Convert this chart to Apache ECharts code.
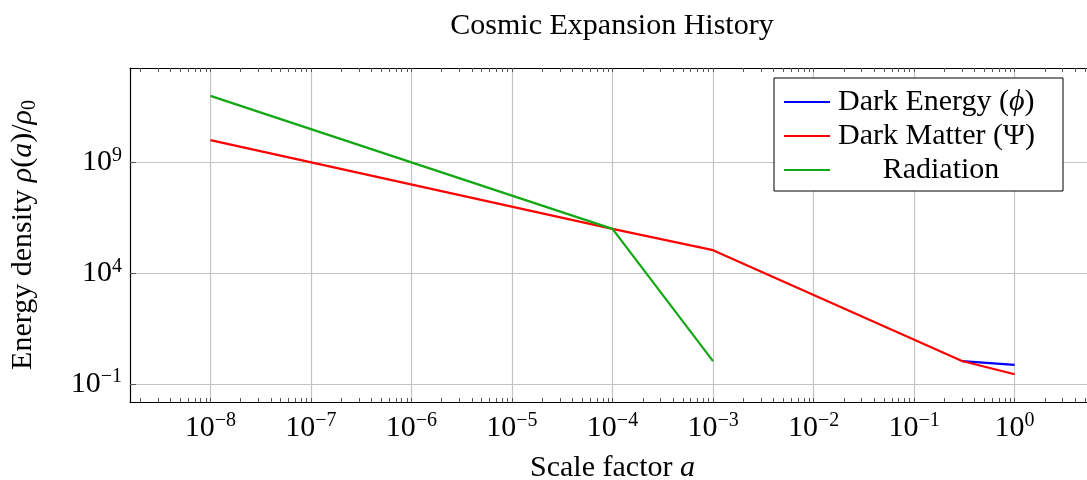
<!DOCTYPE html>
<html>
<head>
<meta charset="utf-8">
<script src="https://cdn.jsdelivr.net/npm/echarts@6.0.0/dist/echarts.min.js"></script>
<style>
html,body{margin:0;padding:0;background:#fff;}
#chart{width:1087px;height:480px;}
</style>
</head>
<body>
<div id="chart"></div>
<script>
// ---- data ----
const seriesNames = ['Dark Energy', 'Dark Matter', 'Radiation'];
const darkEnergyA = [0.3, 1];
const darkEnergyRho = [1.1, 0.74];
const darkMatterA = [1e-8, 1e-4, 1e-3, 0.3, 1];
const darkMatterRho = [1e10, 1e6, 1.1e5, 1.1, 0.28];
const radiationA = [1e-8, 1e-4, 1e-3];
const radiationRho = [1e12, 1e6, 1.1];
// tick exponents
const xTickExps = [-8, -7, -6, -5, -4, -3, -2, -1, 0];
const yTickExps = [-1, 4, 9];

const FONT = '"Liberation Serif", "DejaVu Serif", serif';
const X_MIN = -8.8, X_MAX = 0.8, Y_MIN = -1.805, Y_MAX = 13.255;

function toLog(as, rhos) {
  return as.map((a, i) => [Math.log10(a), Math.log10(rhos[i])]);
}
// minor tick positions (log10 of 2..9 within each decade)
const xMinor = [];
for (let d = -9; d <= 0; d++) {
  for (let k = 2; k <= 9; k++) {
    const v = d + Math.log10(k);
    if (v > X_MIN && v < X_MAX) xMinor.push(v);
  }
}
const xAllTicks = xTickExps.concat(xMinor);

function expLabel(v) {
  const e = Math.round(v);
  const s = e < 0 ? '\u2212' + Math.abs(e) : String(e);
  return '{b|10}{s|' + s + '}';
}
const tickRich = {
  b: {fontFamily: FONT, fontSize: 30, color: '#000', lineHeight: 34},
  s: {fontFamily: FONT, fontSize: 20, color: '#000', lineHeight: 18, verticalAlign: 'top'}
};
const nameRich = {
  r: {fontFamily: FONT, fontSize: 30, color: '#000', lineHeight: 34},
  i: {fontFamily: FONT, fontSize: 30, color: '#000', fontStyle: 'italic', lineHeight: 34},
  sub: {fontFamily: FONT, fontSize: 20, color: '#000', lineHeight: 22, verticalAlign: 'bottom'}
};
const legendRich = {
  t: {fontFamily: FONT, fontSize: 30, color: '#000', lineHeight: 32, padding: [0, 0, 0, 3]},
  i: {fontFamily: FONT, fontSize: 30, color: '#000', fontStyle: 'italic', lineHeight: 32},
  u: {fontFamily: FONT, fontSize: 30, color: '#000', lineHeight: 32},
  c: {fontFamily: FONT, fontSize: 30, color: '#000', lineHeight: 32, width: 212, align: 'center'}
};
const legendLabels = {
  'Dark Energy': '{t|Dark Energy (}{i|\u03D5}{u|)}',
  'Dark Matter': '{t|Dark Matter (}{u|\u03A8)}',
  'Radiation': '{c|Radiation}'
};

const gridRect = {left: 130, top: 68, width: 965, height: 334, outerBoundsMode: 'none', containLabel: false};
const chart = echarts.init(document.getElementById('chart'), null, {renderer: 'canvas'});
chart.setOption({
  animation: false,
  backgroundColor: '#fff',
  title: {
    text: 'Cosmic Expansion History',
    left: 607, top: 6, textAlign: 'center',
    textStyle: {fontFamily: FONT, fontSize: 30, fontWeight: 'normal', color: '#000'}
  },
  legend: {
    data: seriesNames,
    orient: 'vertical',
    left: 774, top: 78,
    padding: [9, 16, 6, 10],
    itemGap: 4,
    itemWidth: 46, itemHeight: 2,
    icon: 'rect',
    borderColor: '#000', borderWidth: 1,
    backgroundColor: '#fff',
    formatter: n => legendLabels[n],
    textStyle: {fontFamily: FONT, fontSize: 30, color: '#000', rich: legendRich}
  },
  grid: [
    Object.assign({}, gridRect),
    Object.assign({}, gridRect)
  ],
  xAxis: [
    { // main bottom axis: ticks + labels
      type: 'value', gridIndex: 0, position: 'bottom', min: X_MIN, max: X_MAX,
      axisLine: {show: true, onZero: false, lineStyle: {color: '#000', width: 1.2}},
      axisTick: {show: true, inside: true, length: 4, customValues: xAllTicks, lineStyle: {color: '#555', width: 1}},
      axisLabel: {show: true, customValues: xTickExps, formatter: expLabel, rich: tickRich, margin: 9},
      splitLine: {show: false},
      name: '{r|Scale factor }{i|a}',
      nameLocation: 'middle', nameGap: 49,
      nameTextStyle: {rich: nameRich}
    },
    { // top border with minor ticks
      type: 'value', gridIndex: 0, position: 'top', min: X_MIN, max: X_MAX,
      axisLine: {show: true, onZero: false, lineStyle: {color: '#000', width: 1.2}},
      axisTick: {show: true, inside: true, length: 4, customValues: xAllTicks, lineStyle: {color: '#555', width: 1}},
      axisLabel: {show: false},
      splitLine: {show: false}
    },
    { // vertical grid lines at decades
      type: 'value', gridIndex: 1, position: 'bottom', min: X_MIN, max: X_MAX,
      axisLine: {show: false},
      axisTick: {show: false, customValues: xTickExps},
      axisLabel: {show: false, customValues: xTickExps},
      splitLine: {show: true, lineStyle: {color: '#c4c4c4', width: 1.2}}
    }
  ],
  yAxis: [
    {
      type: 'value', gridIndex: 0, position: 'left', min: Y_MIN, max: Y_MAX,
      axisLine: {show: true, onZero: false, lineStyle: {color: '#000', width: 1.2}},
      axisTick: {show: true, inside: true, length: 6, customValues: yTickExps, lineStyle: {color: '#555'}},
      axisLabel: {show: true, customValues: yTickExps, formatter: expLabel, rich: tickRich, margin: 8},
      splitLine: {show: true, lineStyle: {color: '#c4c4c4', width: 1.2}},
      name: '{r|Energy density }{i|\u03C1}{r|(}{i|a}{r|)/}{i|\u03C1}{sub|0}',
      nameLocation: 'middle', nameGap: 90, nameRotate: 90,
      nameTextStyle: {rich: nameRich}
    },
    {
      type: 'value', gridIndex: 1, min: Y_MIN, max: Y_MAX, show: false
    }
  ],
  series: [
    {name: 'Dark Energy', type: 'line', xAxisIndex: 0, yAxisIndex: 0, symbol: 'none',
     data: toLog(darkEnergyA, darkEnergyRho), color: '#0000ff', lineStyle: {width: 2.2, color: '#0000ff'}},
    {name: 'Dark Matter', type: 'line', xAxisIndex: 0, yAxisIndex: 0, symbol: 'none',
     data: toLog(darkMatterA, darkMatterRho), color: '#ff0000', lineStyle: {width: 2.2, color: '#ff0000'}},
    {name: 'Radiation', type: 'line', xAxisIndex: 0, yAxisIndex: 0, symbol: 'none',
     data: toLog(radiationA, radiationRho), color: '#13a813', lineStyle: {width: 2.2, color: '#13a813'}}
  ]
});
</script>
</body>
</html>
